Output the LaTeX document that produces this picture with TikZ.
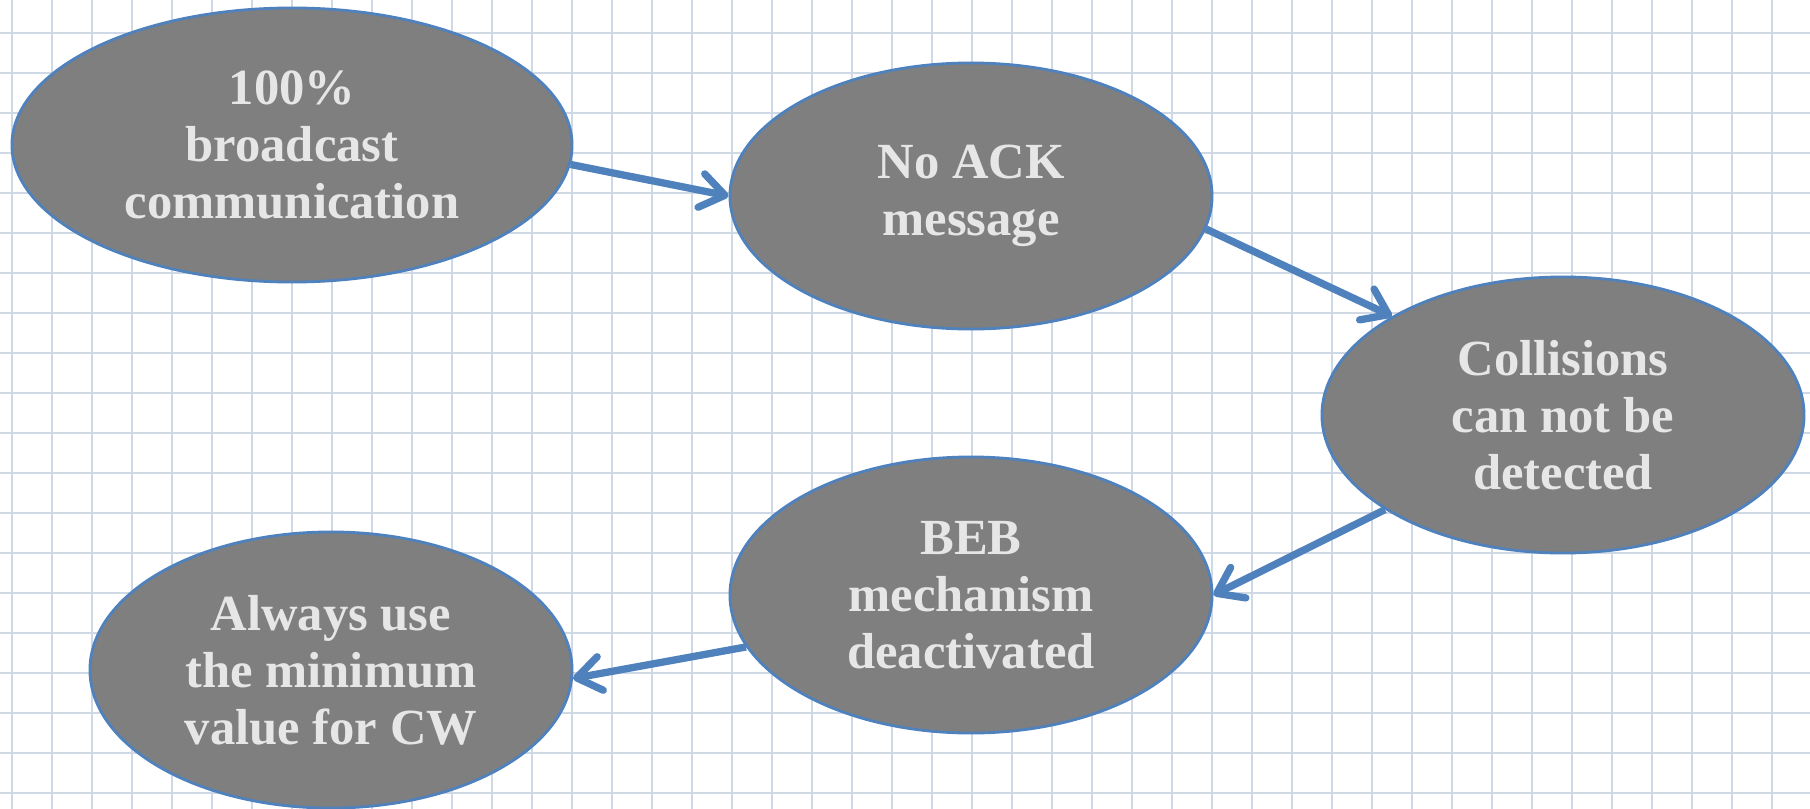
\documentclass[tikz,border=0pt]{standalone}
\usepackage{fontspec}
\usepackage{xcolor}
\usepackage{tikz}
\usetikzlibrary{arrows.meta, shapes.geometric}

\setmainfont{Liberation Serif}

\definecolor{gridblue}{RGB}{207,217,230}
\definecolor{rimblue}{RGB}{79,129,189}
\definecolor{bubblegray}{RGB}{127,127,127}
\definecolor{textgray}{RGB}{230,230,230}

\begin{document}
\begin{tikzpicture}[
  x=0.025cm, y=-0.025cm,
  bubble/.style={ellipse, draw=rimblue, line width=2pt, fill=bubblegray, inner sep=0pt,
    minimum width=12.05cm, minimum height=6.9cm, align=center, text=textgray,
    font=\fontsize{36}{40.5}\selectfont\bfseries},
  flow/.style={-{Straight Barb[length=6mm, width=8.5mm, round]}, line width=5.2pt, draw=rimblue}
]
  \useasboundingbox (0,0) rectangle (1810,809);
  \fill[white] (0,0) rectangle (1810,809);

  % squared paper
  \foreach \gx in {12,52,...,1810}
    \draw[gridblue, line width=1.3pt] (\gx,0) -- (\gx,809);
  \foreach \gy in {33,73,...,809}
    \draw[gridblue, line width=1.3pt] (0,\gy) -- (1810,\gy);

  \node[bubble, minimum width=14cm, minimum height=6.85cm] (bcast) at (292,145)
    {100\%\\broadcast\\communication};
  \node[bubble, minimum height=6.65cm] (noack) at (971,196) {No ACK\\message};
  \node[bubble] (coll)  at (1563,415) {Collisions\\can not be\\detected};
  \node[bubble] (beb)   at (971,595)  {BEB\\mechanism\\deactivated};
  \node[bubble] (mincw) at (331,670)  {Always use\\the minimum\\value for CW};

  % cause -> effect chain
  \draw[flow] (bcast.-4.5) -- (noack.west);
  \draw[flow] (noack.-8.5) -- (coll.150);
  \draw[flow] (coll.208) -- (beb.east);
  \draw[flow] (beb.193) -- (mincw.-2.5);
\end{tikzpicture}
\end{document}
